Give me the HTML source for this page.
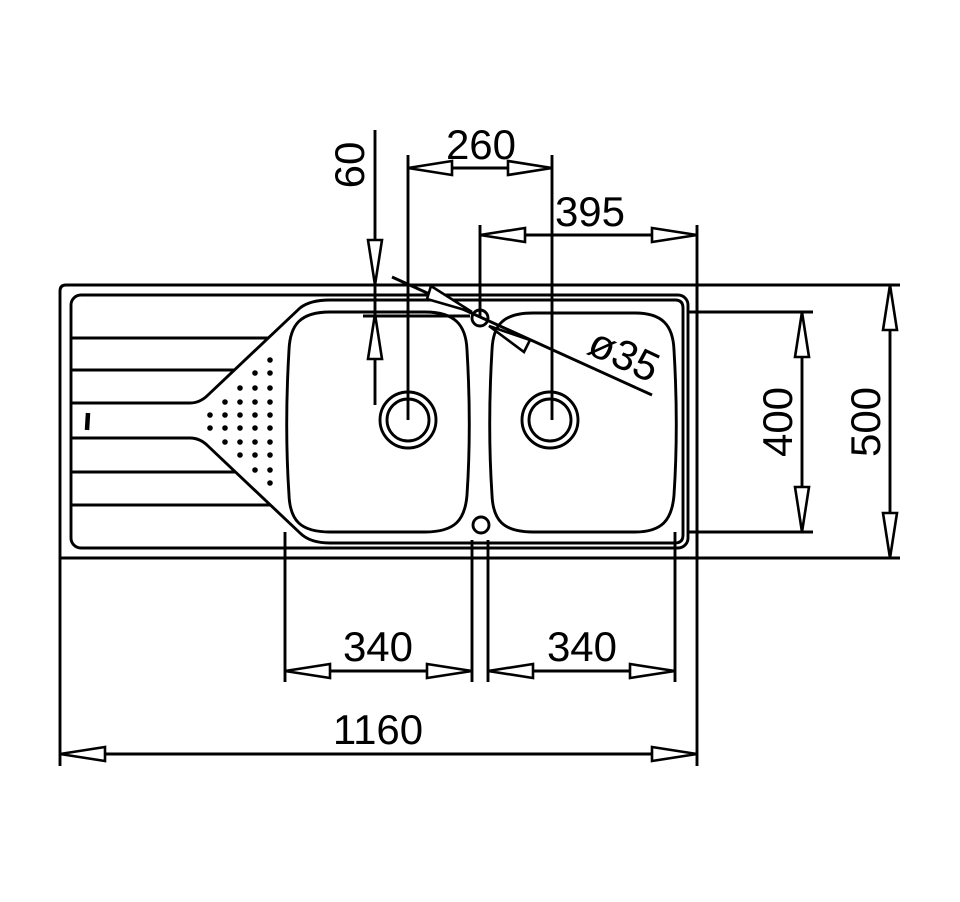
<!DOCTYPE html>
<html><head><meta charset="utf-8"><style>
html,body{margin:0;padding:0;background:#fff}
svg{display:block}
text{font-family:"Liberation Sans",sans-serif;font-size:42px;fill:#000}
</style></head><body>
<svg width="960" height="902" viewBox="0 0 960 902" xmlns="http://www.w3.org/2000/svg">
<g fill="none" stroke="#000" stroke-width="2.9" stroke-linejoin="round">
<path d="M66,285 L697,285 L697,558 L60,558 L60,291 Q60,285 66,285 Z"/>
<line x1="697" y1="285" x2="900" y2="285"/>
<line x1="697" y1="558" x2="900" y2="558"/>
<rect x="71" y="295" width="617" height="253" rx="10"/>
<path d="M72,403 L190,403 Q200,403 208,395 L300,308 Q310,300 330,300 L675,300 Q683,300 683,308 L683,535 Q683,543 675,543 L330,543 Q310,543 300,533 L208,446 Q200,438 190,438 L72,438"/>
<line x1="72" y1="338" x2="268" y2="338"/>
<line x1="72" y1="370" x2="234" y2="370"/>
<line x1="72" y1="472" x2="235" y2="472"/>
<line x1="72" y1="505" x2="270" y2="505"/>
<line x1="88" y1="413" x2="87" y2="430" stroke-width="4.5"/>
<path d="M330,312 L425,312 C455,312 466,325 467,350 C470,400 470,450 467,495 C465,520 455,532 425,532 L330,532 C300,532 290,520 289,495 C286,450 286,400 289,350 C290,325 300,312 330,312 Z"/>
<path d="M533,313 L635,313 C662,313 673,325 674,350 C677,400 677,450 674,495 C672,520 662,532 635,532 L533,532 C503,532 493,520 492,495 C489,450 489,400 492,350 C493,325 503,313 533,313 Z"/>
<circle cx="408" cy="420" r="28"/><circle cx="408" cy="420" r="21"/>
<circle cx="550" cy="420" r="28"/><circle cx="550" cy="420" r="21"/>
<circle cx="480" cy="318" r="8"/>
<circle cx="481" cy="525" r="8"/>
<line x1="408" y1="155" x2="408" y2="420"/>
<line x1="552" y1="155" x2="552" y2="420"/>
<line x1="480" y1="225" x2="480" y2="318"/>
<line x1="697" y1="225" x2="697" y2="766"/>
<line x1="375" y1="130" x2="375" y2="405"/>
<line x1="363" y1="316" x2="470" y2="316"/>
<line x1="688" y1="312" x2="813" y2="312"/>
<line x1="688" y1="532" x2="813" y2="532"/>
<line x1="285" y1="532" x2="285" y2="682"/>
<line x1="472" y1="540" x2="472" y2="682"/>
<line x1="488" y1="540" x2="488" y2="682"/>
<line x1="675" y1="532" x2="675" y2="682"/>
<line x1="60" y1="558" x2="60" y2="766"/>
<line x1="408" y1="168" x2="552" y2="168"/>
<line x1="480" y1="235" x2="697" y2="235"/>
<line x1="285" y1="671" x2="472" y2="671"/>
<line x1="488" y1="671" x2="675" y2="671"/>
<line x1="60" y1="754" x2="697" y2="754"/>
<line x1="802" y1="312" x2="802" y2="532"/>
<line x1="890" y1="285" x2="890" y2="558"/>
<line x1="392" y1="277" x2="652" y2="395"/>
</g>
<g fill="#fff" stroke="#000" stroke-width="2.6" stroke-linejoin="miter">
<polygon points="408,168 452,161 452,175"/><polygon points="552,168 508,161 508,175"/>
<polygon points="480,235 525,228 525,242"/><polygon points="697,235 652,228 652,242"/>
<polygon points="285,671 330,664 330,678"/><polygon points="472,671 427,664 427,678"/>
<polygon points="488,671 533,664 533,678"/><polygon points="675,671 630,664 630,678"/>
<polygon points="60,754 105,747 105,761"/><polygon points="697,754 652,747 652,761"/>
<polygon points="802,312 795,357 809,357"/><polygon points="802,532 795,487 809,487"/>
<polygon points="890,285 883,330 897,330"/><polygon points="890,558 883,513 897,513"/>
<polygon points="375,285 368,240 382,240"/><polygon points="375,314 368,359 382,359"/>
<polygon points="472,312 431,286 427,299"/><polygon points="489,326 530,340 524,352"/>
</g>
<g fill="#000">
<circle cx="270" cy="360" r="2.8"/><circle cx="270" cy="373" r="2.8"/><circle cx="270" cy="388" r="2.8"/><circle cx="270" cy="402" r="2.8"/><circle cx="270" cy="415" r="2.8"/><circle cx="270" cy="428" r="2.8"/><circle cx="270" cy="442" r="2.8"/><circle cx="270" cy="455" r="2.8"/><circle cx="270" cy="470" r="2.8"/><circle cx="270" cy="483" r="2.8"/>
<circle cx="255" cy="373" r="2.8"/><circle cx="255" cy="388" r="2.8"/><circle cx="255" cy="402" r="2.8"/><circle cx="255" cy="415" r="2.8"/><circle cx="255" cy="428" r="2.8"/><circle cx="255" cy="442" r="2.8"/><circle cx="255" cy="455" r="2.8"/><circle cx="255" cy="470" r="2.8"/>
<circle cx="240" cy="388" r="2.8"/><circle cx="240" cy="402" r="2.8"/><circle cx="240" cy="415" r="2.8"/><circle cx="240" cy="428" r="2.8"/><circle cx="240" cy="442" r="2.8"/><circle cx="240" cy="455" r="2.8"/>
<circle cx="225" cy="402" r="2.8"/><circle cx="225" cy="415" r="2.8"/><circle cx="225" cy="428" r="2.8"/><circle cx="225" cy="442" r="2.8"/>
<circle cx="210" cy="415" r="2.8"/><circle cx="210" cy="428" r="2.8"/>
</g>
<text x="481" y="159" text-anchor="middle">260</text>
<text x="590" y="226" text-anchor="middle">395</text>
<text x="378" y="661" text-anchor="middle">340</text>
<text x="582" y="661" text-anchor="middle">340</text>
<text x="378" y="744" text-anchor="middle">1160</text>
<text transform="translate(364,165) rotate(-90)" text-anchor="middle">60</text>
<text transform="translate(792,422) rotate(-90)" text-anchor="middle">400</text>
<text transform="translate(880,422) rotate(-90)" text-anchor="middle">500</text>
<text transform="translate(618,368) rotate(25)" text-anchor="middle">ø35</text>
</svg>
</body></html>
